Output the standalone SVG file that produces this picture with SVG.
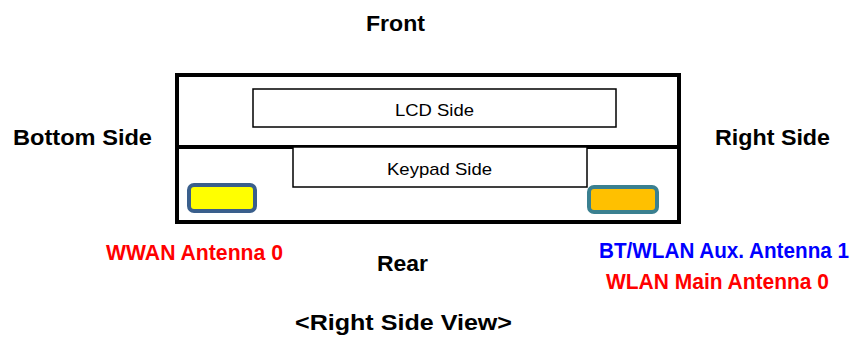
<svg xmlns="http://www.w3.org/2000/svg" width="857" height="338" viewBox="0 0 857 338">
<style>
.b{font-family:"Liberation Sans",Arial,sans-serif;font-weight:bold;font-size:22px}
.n{font-family:"Liberation Sans",Arial,sans-serif;font-size:17px;fill:#000}
.box{fill:#fff;stroke:#000;stroke-width:1.5}
</style>
<rect width="857" height="338" fill="#fff"/>
<g id="device">
<rect x="177" y="75" width="502" height="147" fill="#fff" stroke="#000" stroke-width="4"/>
<line x1="177" y1="147" x2="679" y2="147" stroke="#000" stroke-width="4"/>
</g>
<g id="lcd">
<rect class="box" x="253" y="89" width="363" height="38"/>
<text class="n" x="434.5" y="116" text-anchor="middle" textLength="79" lengthAdjust="spacingAndGlyphs">LCD Side</text>
</g>
<g id="keypad">
<rect class="box" x="293" y="147" width="294" height="40"/>
<text class="n" x="439.5" y="175" text-anchor="middle" textLength="105" lengthAdjust="spacingAndGlyphs">Keypad Side</text>
</g>
<g id="wwan-antenna">
<rect x="189" y="185" width="66" height="26" rx="5" fill="#ffff00" stroke="#3a5f8c" stroke-width="4"/>
</g>
<g id="wlan-antenna">
<rect x="589" y="187" width="68" height="25" rx="5" fill="#ffc000" stroke="#3a8090" stroke-width="4"/>
</g>
<g id="labels" class="b">
<text x="366" y="31" textLength="59" lengthAdjust="spacingAndGlyphs">Front</text>
<text x="13" y="145" textLength="139" lengthAdjust="spacingAndGlyphs">Bottom Side</text>
<text x="715" y="145" textLength="115" lengthAdjust="spacingAndGlyphs">Right Side</text>
<text x="106" y="260" fill="#ff0000" textLength="177" lengthAdjust="spacingAndGlyphs">WWAN Antenna 0</text>
<text x="377" y="271" textLength="51" lengthAdjust="spacingAndGlyphs">Rear</text>
<text x="599" y="258" fill="#0000ff" textLength="250" lengthAdjust="spacingAndGlyphs">BT/WLAN Aux. Antenna 1</text>
<text x="606" y="289" fill="#ff0000" textLength="223" lengthAdjust="spacingAndGlyphs">WLAN Main Antenna 0</text>
<text x="295" y="330" textLength="217" lengthAdjust="spacingAndGlyphs">&lt;Right Side View&gt;</text>
</g>
</svg>
